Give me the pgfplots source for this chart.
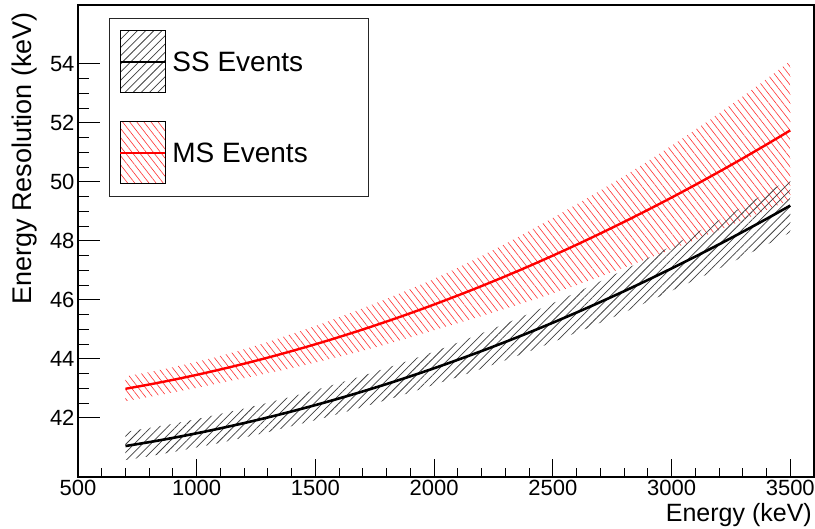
\documentclass[border=0pt]{standalone}
\usepackage{pgfplots}
\pgfplotsset{compat=1.18}
\usepackage{pgfplotstable}
\usepgfplotslibrary{fillbetween}
\usetikzlibrary{patterns.meta}
\usepackage{fontspec}
\setmainfont{Liberation Sans}

% Energy resolution (keV) of single-site and multi-site events with 1 sigma bands
\pgfplotstableread{
E    ss     sserr  ms     mserr
700  41.050 0.48   42.990 0.42
800  41.182 0.48   43.136 0.42
900  41.326 0.48   43.293 0.43
1000 41.482 0.48   43.463 0.44
1100 41.650 0.49   43.646 0.46
1200 41.829 0.49   43.841 0.49
1300 42.020 0.50   44.048 0.53
1400 42.223 0.50   44.268 0.58
1500 42.438 0.51   44.500 0.62
1600 42.664 0.52   44.745 0.67
1700 42.902 0.53   45.002 0.72
1800 43.152 0.54   45.271 0.77
1900 43.414 0.55   45.553 0.82
2000 43.687 0.56   45.847 0.87
2100 43.973 0.58   46.154 0.94
2200 44.270 0.60   46.473 1.02
2300 44.578 0.62   46.804 1.10
2400 44.898 0.64   47.148 1.19
2500 45.231 0.66   47.505 1.28
2600 45.575 0.68   47.873 1.37
2700 45.931 0.70   48.255 1.46
2800 46.298 0.72   48.648 1.55
2900 46.678 0.74   49.054 1.65
3000 47.069 0.76   49.472 1.76
3100 47.471 0.79   49.903 1.87
3200 47.886 0.82   50.346 1.98
3300 48.312 0.85   50.802 2.10
3400 48.750 0.88   51.270 2.22
3500 49.200 0.91   51.750 2.35
}\resdata

\tikzset{
  sshatch/.style={pattern={Lines[angle=45,distance=5.8bp,line width=0.75bp]}, pattern color=black!75},
  mshatch/.style={pattern={Lines[angle=-52,distance=5.6bp,line width=0.6bp]}, pattern color=red!80},
}

\begin{document}
\begin{tikzpicture}
\begin{axis}[
  scale only axis,
  width=736bp, height=472bp,
  xmin=500, xmax=3600,
  ymin=40, ymax=56,
  xtick={500,1000,...,3500},
  ytick={42,44,...,54},
  minor x tick num=4,
  minor y tick num=3,
  xtick pos=bottom, ytick pos=left,
  tick align=inside,
  xtick style={black, line width=1bp, /pgfplots/major tick length=18bp, /pgfplots/minor tick length=9bp},
  ytick style={black, line width=1bp, /pgfplots/major tick length=22bp, /pgfplots/minor tick length=11bp},
  axis line style={line width=1.3bp},
  scaled x ticks=false,
  /pgf/number format/assume math mode=true,
  /pgf/number format/1000 sep={},
  tick label style={font=\fontsize{22bp}{26bp}\selectfont},
  xlabel={Energy (keV)},
  ylabel={Energy Resolution (keV)},
  every axis x label/.style={at={([xshift=-2bp,yshift=-26bp]rel axis cs:1,0)}, anchor=north east,
    inner sep=0pt, font=\fontsize{25bp}{30bp}\selectfont},
  every axis y label/.style={at={([xshift=-41bp,yshift=-7bp]rel axis cs:0,1)}, rotate=90,
    anchor=south east, inner sep=0pt, font=\fontsize{27bp}{32bp}\selectfont},
  legend style={at={(0.042,0.9725)}, anchor=north west, draw=black!85, line width=1bp,
    font=\fontsize{28bp}{32bp}\selectfont, row sep=28bp, inner xsep=10bp, inner ysep=12bp,
    nodes={inner sep=0pt}},
  legend cell align=left,
  clip=true,
]
% multi-site band and central curve
\addplot[draw=none, name path=msU, forget plot] table[x=E, y expr=\thisrow{ms}+\thisrow{mserr}] {\resdata};
\addplot[draw=none, name path=msL, forget plot] table[x=E, y expr=\thisrow{ms}-\thisrow{mserr}] {\resdata};
\addplot[mshatch, draw=none, forget plot] fill between[of=msU and msL];
% single-site band and central curve
\addplot[draw=none, name path=ssU, forget plot] table[x=E, y expr=\thisrow{ss}+\thisrow{sserr}] {\resdata};
\addplot[draw=none, name path=ssL, forget plot] table[x=E, y expr=\thisrow{ss}-\thisrow{sserr}] {\resdata};
\addplot[sshatch, draw=none, forget plot] fill between[of=ssU and ssL];
\addplot[red, line width=2.4bp, smooth, forget plot] table[x=E, y=ms] {\resdata};
\addplot[black, line width=2.6bp, smooth, forget plot] table[x=E, y=ss] {\resdata};

\addlegendimage{legend image code/.code={
  \fill[sshatch] (0bp,-31bp) rectangle (45bp,31bp);
  \draw[black, line width=2bp] (0bp,0bp) -- (45bp,0bp);}}
\addlegendentry{\makebox[192bp][l]{\hspace{6bp}SS Events}}
\addlegendimage{legend image code/.code={
  \fill[mshatch] (0bp,-31bp) rectangle (45bp,31bp);
  \draw[red, line width=2bp] (0bp,0bp) -- (45bp,0bp);}}
\addlegendentry{\makebox[192bp][l]{\hspace{6bp}MS Events}}
\end{axis}
\pgfresetboundingbox
\path ([xshift=-78bp,yshift=5bp]current axis.north west) ([xshift=1bp,yshift=-52bp]current axis.south east);
\end{tikzpicture}
\end{document}
